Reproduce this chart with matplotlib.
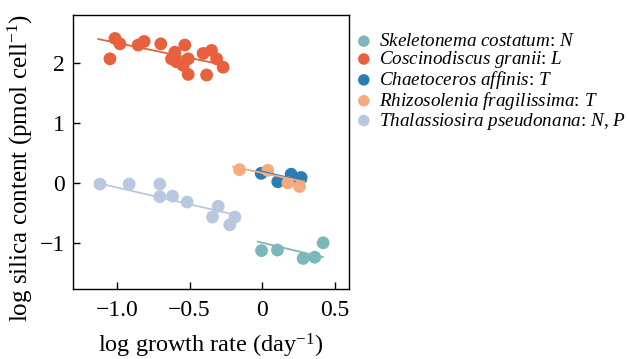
import numpy as np
import matplotlib
matplotlib.use('Agg')
import matplotlib.pyplot as plt

plt.rcParams['font.family'] = ['Liberation Serif', 'DejaVu Serif']
plt.rcParams['mathtext.fontset'] = 'custom'
plt.rcParams['mathtext.rm'] = 'Liberation Serif'
plt.rcParams['mathtext.it'] = 'Liberation Serif:italic'

# data (log growth rate, log silica content)
skel_x = [-0.004, 0.106, 0.283, 0.363, 0.421]
skel_y = [-1.13, -1.12, -1.26, -1.24, -1.00]
skel_fit_x = [-0.03, 0.42]
skel_fit_y = [-0.98, -1.24]

cosc_x = [-1.015, -0.981, -1.05, -0.855, -0.814, -0.699, -0.533, -0.602, -0.625,
          -0.59, -0.51, -0.545, -0.51, -0.407, -0.349, -0.314, -0.383, -0.269]
cosc_y = [2.41, 2.32, 2.07, 2.30, 2.36, 2.32, 2.30, 2.18, 2.07,
          2.02, 2.07, 1.96, 1.81, 2.16, 2.21, 2.07, 1.80, 1.93]
cosc_fit_x = [-1.13, -0.27]
cosc_fit_y = [2.40, 1.97]

chae_x = [-0.007, 0.108, 0.20, 0.269, 0.246]
chae_y = [0.16, 0.02, 0.145, 0.09, 0.05]
chae_fit_x = [-0.02, 0.30]
chae_fit_y = [0.20, 0.02]

rhiz_x = [-0.156, 0.039, 0.177, 0.258]
rhiz_y = [0.22, 0.21, 0.0, -0.06]
rhiz_fit_x = [-0.20, 0.29]
rhiz_fit_y = [0.27, 0.02]

thal_x = [-1.119, -0.917, -0.706, -0.706, -0.618, -0.517, -0.303, -0.342, -0.188, -0.223]
thal_y = [-0.02, -0.02, -0.02, -0.23, -0.22, -0.32, -0.39, -0.57, -0.57, -0.70]
thal_fit_x = [-1.12, -0.19]
thal_fit_y = [-0.01, -0.53]

labels = [r'$\it{Skeletonema\ costatum}$: $\it{N}$',
          r'$\it{Coscinodiscus\ granii}$: $\it{L}$',
          r'$\it{Chaetoceros\ affinis}$: $\it{T}$',
          r'$\it{Rhizosolenia\ fragilissima}$: $\it{T}$',
          r'$\it{Thalassiosira\ pseudonana}$: $\it{N}$, $\it{P}$']
colors = ['#7cb7b9', '#e8613e', '#2a7db3', '#f6ab7e', '#b9c7df']

series = [(skel_x, skel_y, skel_fit_x, skel_fit_y),
          (cosc_x, cosc_y, cosc_fit_x, cosc_fit_y),
          (chae_x, chae_y, chae_fit_x, chae_fit_y),
          (rhiz_x, rhiz_y, rhiz_fit_x, rhiz_fit_y),
          (thal_x, thal_y, thal_fit_x, thal_fit_y)]

fig = plt.figure(figsize=(6.29, 3.59), dpi=100)
ax = fig.add_axes([0.116, 0.195, 0.439, 0.763])

for (x, y, fx, fy), c, lab in zip(series, colors, labels):
    ax.scatter(x, y, s=85, color=c, edgecolors='none', label=lab, zorder=2)
for (x, y, fx, fy), c in zip(series, colors):
    ax.plot(fx, fy, color=c, lw=1.3, zorder=3)

ax.set_xlim(-1.305, 0.6)
ax.set_ylim(-1.77, 2.8)
ax.set_xticks([-1.0, -0.5, 0, 0.5])
ax.set_xticklabels(['\u22121.0', '\u22120.5', '0', '0.5'])
ax.set_yticks([-1, 0, 1, 2])
ax.set_yticklabels(['\u22121', '0', '1', '2'])
ax.tick_params(direction='in', length=5, width=1, labelsize=17)
ax.tick_params(axis='x', pad=8)
ax.tick_params(axis='y', pad=6)
for sp in ax.spines.values():
    sp.set_linewidth(1)

ax.set_xlabel(r'log growth rate (day$^{-1}$)', fontsize=17.5)
ax.set_ylabel(r'log silica content (pmol cell$^{-1}$)', fontsize=18)
ax.xaxis.set_label_coords(0.5, -0.157)
ax.yaxis.set_label_coords(-0.138, 0.44)

fig.legend(loc='upper left', bbox_to_anchor=(0.554, 0.93), frameon=False,
           fontsize=13.8, handlelength=0.8, handletextpad=0.37, labelspacing=-0.06,
           borderaxespad=0, scatterpoints=1, markerscale=0.9)

fig.savefig('out.png', dpi=100)
